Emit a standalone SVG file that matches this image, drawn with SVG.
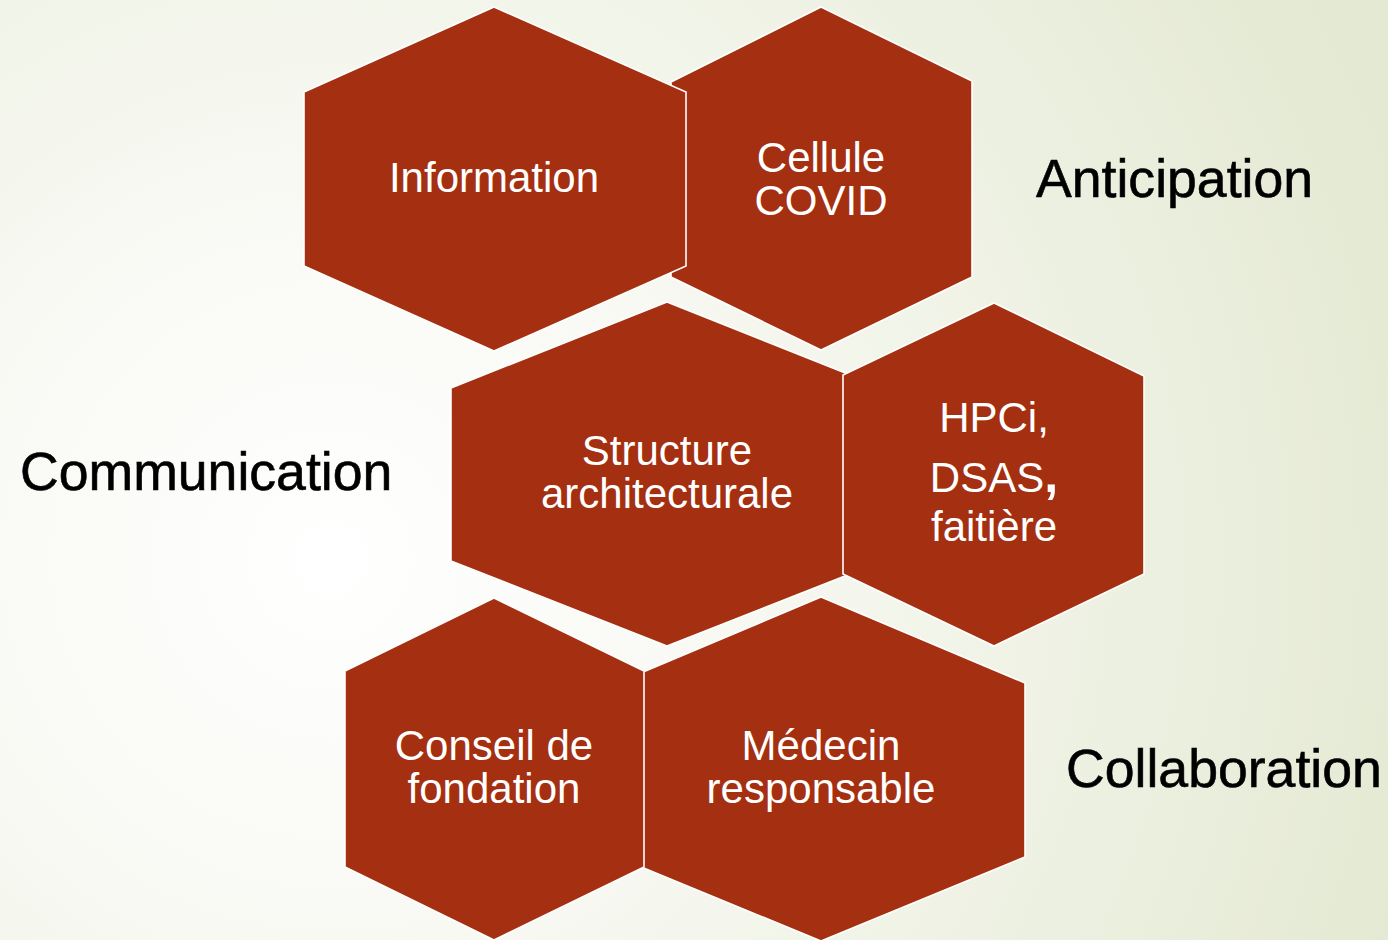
<svg xmlns="http://www.w3.org/2000/svg" width="1388" height="940" viewBox="0 0 1388 940">
<defs>
<radialGradient id="bg" cx="330" cy="560" r="1130" gradientUnits="userSpaceOnUse">
<stop offset="0" stop-color="#ffffff"/>
<stop offset="0.3" stop-color="#f9faf5"/>
<stop offset="0.56" stop-color="#f1f4e8"/>
<stop offset="1" stop-color="#e4e9d3"/>
</radialGradient>
<style>
.hex{fill:#a52f11;stroke:#ffffff;stroke-width:1.6;stroke-linejoin:miter}
.ht{fill:#ffffff;font-family:"Liberation Sans",Arial,sans-serif;font-size:42px;text-anchor:middle}
.lab{fill:#000000;font-family:"Liberation Sans",Arial,sans-serif;font-size:53.6px;stroke:#000;stroke-width:0.6}
</style>
</defs>
<rect x="0" y="0" width="1388" height="940" fill="url(#bg)"/>
<g id="connectors"/>
<g id="node-cellule">
<polygon class="hex" points="821,7 972,81 972,277 821,350 671,277 671,82"/>
<text class="ht" x="821" y="172">Cellule</text>
<text class="ht" x="821" y="215">COVID</text>
</g>
<g id="node-information">
<polygon class="hex" points="494,7 686,92 686,266 494,351 304,266 304,92"/>
<text class="ht" x="494" y="192">Information</text>
</g>
<g id="node-structure">
<polygon class="hex" points="667,302 883,388 883,561 667,646 451,561 451,388"/>
<text class="ht" x="667" y="465">Structure</text>
<text class="ht" x="667" y="508">architecturale</text>
</g>
<g id="node-hpci">
<polygon class="hex" points="994,303 1144,376 1144,574 994,646 843,574 843,375"/>
<text class="ht" x="994" y="432">HPCi,</text>
<text class="ht" x="994" y="492">DSAS<tspan font-size="50" font-weight="bold">,</tspan></text>
<text class="ht" x="994" y="541">faitière</text>
</g>
<g id="node-medecin">
<polygon class="hex" points="821,597 1025,683 1025,857 821,941 617,857 617,683"/>
<text class="ht" x="821" y="760">Médecin</text>
<text class="ht" x="821" y="803">responsable</text>
</g>
<g id="node-conseil">
<polygon class="hex" points="494,598 644,671 644,867 494,940 345,867 345,671"/>
<text class="ht" x="494" y="760">Conseil de</text>
<text class="ht" x="494" y="803">fondation</text>
</g>
<g id="labels">
<text class="lab" x="1036" y="197">Anticipation</text>
<text class="lab" x="20" y="490">Communication</text>
<text class="lab" x="1066" y="787">Collaboration</text>
</g>
</svg>
